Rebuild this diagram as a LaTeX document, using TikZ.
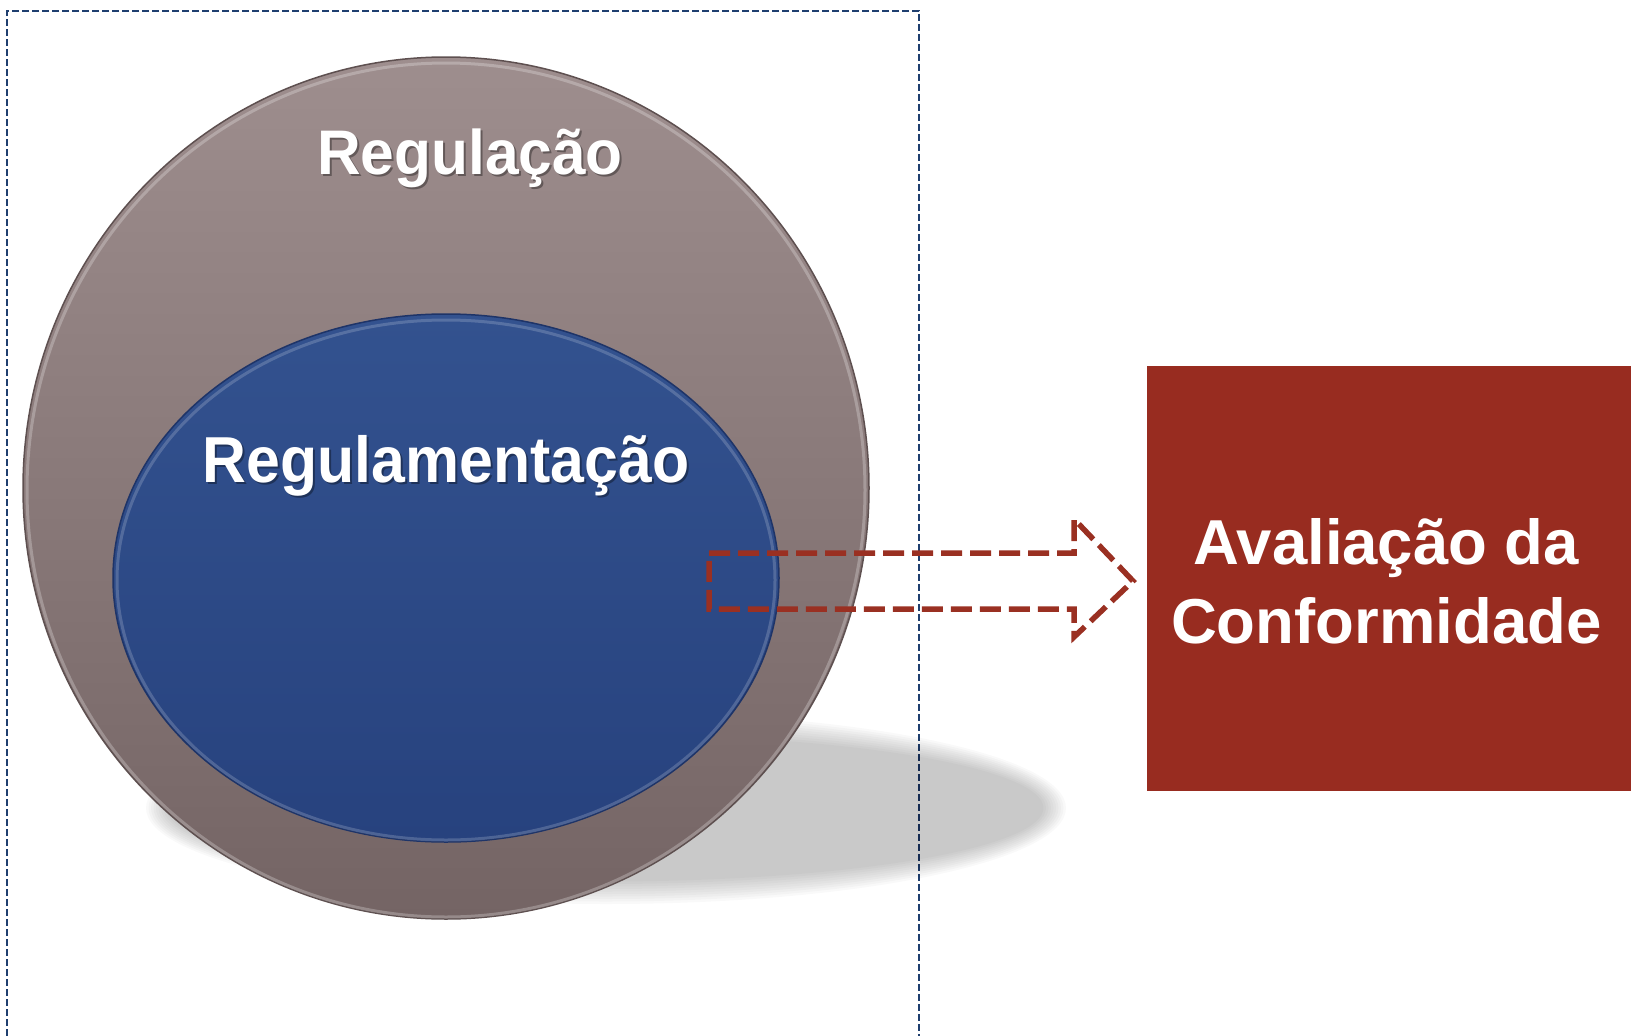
\documentclass[tikz,border=0pt]{standalone}
\usepackage{fontspec}
\setmainfont{Liberation Sans}
\usetikzlibrary{calc}
\definecolor{outerTop}{HTML}{9E8E8E}
\definecolor{outerBot}{HTML}{746464}
\definecolor{outerLine}{HTML}{5E5050}
\definecolor{innerTop}{HTML}{33528F}
\definecolor{innerBot}{HTML}{27427E}
\definecolor{innerLine}{HTML}{1E3468}
\definecolor{boxRed}{HTML}{982C20}
\definecolor{arrowRed}{HTML}{9A3022}
\definecolor{frameBlue}{HTML}{1F3F6F}
\tikzset{
  bigtext/.style={text=white, font=\bfseries, inner sep=0pt, anchor=base},
  shadowtext/.style={text=black, opacity=0.35, font=\bfseries, inner sep=0pt, anchor=base},
  redbox/.style={fill=boxRed, draw=none, inner sep=0pt, anchor=north west,
    minimum width=484pt, minimum height=425pt},
  boxtext/.style={text=white, align=center, inner sep=0pt,
    font=\bfseries\fontsize{63.5}{79}\selectfont},
  dasharrow/.style={draw=arrowRed, line width=5.5pt, dash pattern=on 21pt off 8pt, line join=miter},
  frame/.style={draw=frameBlue, line width=2pt, dash pattern=on 7pt off 3pt}
}
\begin{document}
\begin{tikzpicture}[x=1pt,y=-1pt]
\useasboundingbox (0,0) rectangle (1631,1036);
% frame
\draw[frame] (7,1036) -- (7,11) -- (919,11) -- (919,1036);
% shadow
\foreach \k in {0,...,9}{
  \fill[black, opacity=0.024] (606,808) ellipse ({460-2.5*\k} and {96-2.5*\k});
}
% outer circle
\shade[top color=outerTop, bottom color=outerBot] (446,488) ellipse (423 and 431);
\draw[outerLine, line width=1.5pt] (446,488) ellipse (423 and 431);
\draw[white, opacity=0.25, line width=3pt] (446,490) ellipse (419 and 427);
\node[bigtext, shadowtext, font=\bfseries\fontsize{63}{70}\selectfont] at (472,176) {\scalebox{0.96}[1]{Regulação}};
\node[bigtext, font=\bfseries\fontsize{63}{70}\selectfont] (reg) at (470,174) {\scalebox{0.96}[1]{Regulação}};
% inner ellipse
\shade[top color=innerTop, bottom color=innerBot] (446,578) ellipse (333 and 264);
\draw[innerLine, line width=1.5pt] (446,578) ellipse (333 and 264);
\draw[white, opacity=0.18, line width=3pt] (446,580) ellipse (329 and 260);
\node[bigtext, shadowtext, font=\bfseries\fontsize{65}{70}\selectfont] at (448,484) {\scalebox{0.935}[1]{Regulamentação}};
\node[bigtext, font=\bfseries\fontsize{65}{70}\selectfont] (regm) at (446,482) {\scalebox{0.935}[1]{Regulamentação}};
% red box
\node[redbox] (aval) at (1147,366) {};
\node[boxtext] (avaltext) at ($(aval.center)+(-3,3)$) {Avaliação da\\Conformidade};
% dashed block arrow
\coordinate (a1) at (709,553);
\coordinate (a2) at (1074,553);
\coordinate (a3) at (1074,519);
\coordinate (tip) at (1133,581);
\coordinate (a5) at (1074,637);
\coordinate (a6) at (1074,609);
\coordinate (a7) at (709,609);
\draw[dasharrow] (a1) -- (a2) -- (a3) -- (tip) -- (a5) -- (a6) -- (a7) -- cycle;
\end{tikzpicture}
\end{document}
